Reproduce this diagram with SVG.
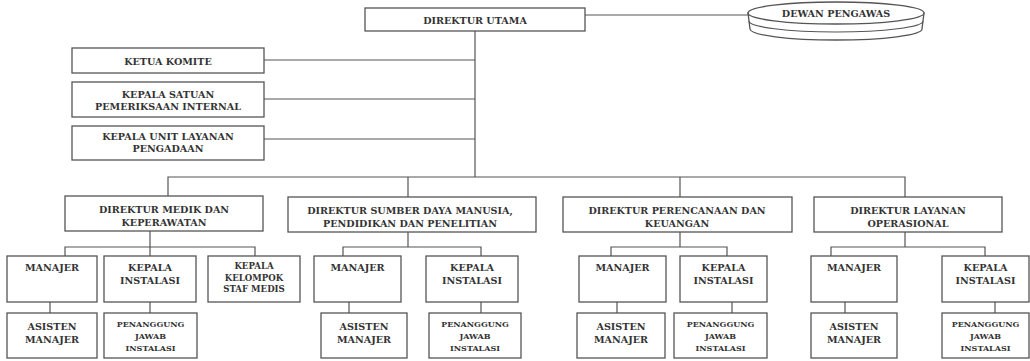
<svg xmlns="http://www.w3.org/2000/svg" width="1030" height="361" viewBox="0 0 1030 361">
<style>
.b{fill:#fff;stroke:#555;stroke-width:1.3}
.c{fill:none;stroke:#555;stroke-width:1.2}
text{font-family:"DejaVu Serif","Liberation Serif",serif;font-weight:bold;fill:#333;text-anchor:middle;font-size:9.6px}
.s{font-size:8.6px}
.t{font-size:8px}
</style>
<rect width="1030" height="361" fill="#fff"/>
<g id="connectors" class="c">
<path d="M585,15 H748"/>
<path d="M475,31 V177"/>
<path d="M264,60 H475 M264,99 H475 M264,139 H475"/>
<path d="M168,196 V177 H905 V197 M408,177 V197 M680,177 V197"/>
<path d="M150,231 V247 M65,256 V247 H255 V256 M150,247 V256"/>
<path d="M50,302 V313 M150,302 V313"/>
<path d="M408,232 V247 M343,256 V247 H481 V256"/>
<path d="M349,302 V313 M481,302 V313"/>
<path d="M680,232 V247 M611,256 V247 H727 V256"/>
<path d="M617,302 V313 M732,302 V313"/>
<path d="M905,232 V247 M831,256 V247 H985 V256"/>
<path d="M845,302 V313 M995,302 V313"/>
</g>
<g id="direktur-utama"><rect class="b" x="365" y="8" width="220" height="23"/><text x="475" y="23.5">DIREKTUR UTAMA</text></g>
<g id="dewan-pengawas">
<path class="b" d="M748,13 L750,29 A86,11 0 0 0 922,29 L924,13 Z"/>
<path class="c" d="M749,21 A87,11 0 0 0 923,21"/>
<ellipse class="b" cx="836" cy="13" rx="88" ry="11"/>
<text x="836" y="17">DEWAN PENGAWAS</text></g>
<g id="ketua-komite"><rect class="b" x="72" y="48" width="192" height="25"/><text x="168" y="64.5">KETUA KOMITE</text></g>
<g id="kepala-spi"><rect class="b" x="72" y="82" width="192" height="35"/><text x="168" y="97.5">KEPALA SATUAN</text><text x="168" y="109.5">PEMERIKSAAN INTERNAL</text></g>
<g id="kepala-ulp"><rect class="b" x="72" y="126" width="192" height="34"/><text x="168" y="139.5">KEPALA UNIT LAYANAN</text><text x="168" y="151.5">PENGADAAN</text></g>
<g id="dir-medik"><rect class="b" x="65" y="196" width="198" height="35"/><text x="164" y="212.5">DIREKTUR MEDIK DAN</text><text x="164" y="225.5">KEPERAWATAN</text></g>
<g id="dir-sdm"><rect class="b" x="288" y="197" width="248" height="35"/><text x="410" y="213.5">DIREKTUR SUMBER DAYA MANUSIA,</text><text x="410" y="226.5">PENDIDIKAN DAN PENELITIAN</text></g>
<g id="dir-perencanaan"><rect class="b" x="563" y="197" width="229" height="35"/><text x="677" y="213.5">DIREKTUR PERENCANAAN DAN</text><text x="677" y="226.5">KEUANGAN</text></g>
<g id="dir-layanan"><rect class="b" x="814" y="197" width="188" height="35"/><text x="908" y="213.5">DIREKTUR LAYANAN</text><text x="908" y="226.5">OPERASIONAL</text></g>
<g id="medik-manajer"><rect class="b" x="7" y="256" width="90" height="46"/><text x="52" y="270.5">MANAJER</text></g>
<g id="medik-kepala-instalasi"><rect class="b" x="104" y="256" width="92" height="46"/><text x="150" y="270.5">KEPALA</text><text x="150" y="283.5">INSTALASI</text></g>
<g id="medik-ksm"><rect class="b" x="208" y="256" width="92" height="46"/><text class="s" x="254" y="269">KEPALA</text><text class="s" x="254" y="280.5">KELOMPOK</text><text class="s" x="254" y="292">STAF MEDIS</text></g>
<g id="medik-asisten"><rect class="b" x="7" y="313" width="90" height="45"/><text x="52" y="329.5">ASISTEN</text><text x="52" y="342.5">MANAJER</text></g>
<g id="medik-pj"><rect class="b" x="104" y="313" width="93" height="45"/><text class="t" x="150.5" y="327">PENANGGUNG</text><text class="t" x="150.5" y="339">JAWAB</text><text class="t" x="150.5" y="351">INSTALASI</text></g>
<g id="sdm-manajer"><rect class="b" x="314" y="256" width="87" height="46"/><text x="357.5" y="270.5">MANAJER</text></g>
<g id="sdm-kepala-instalasi"><rect class="b" x="426" y="256" width="92" height="46"/><text x="472" y="270.5">KEPALA</text><text x="472" y="283.5">INSTALASI</text></g>
<g id="sdm-asisten"><rect class="b" x="321" y="313" width="86" height="45"/><text x="364" y="329.5">ASISTEN</text><text x="364" y="342.5">MANAJER</text></g>
<g id="sdm-pj"><rect class="b" x="429" y="313" width="92" height="45"/><text class="t" x="475" y="327">PENANGGUNG</text><text class="t" x="475" y="339">JAWAB</text><text class="t" x="475" y="351">INSTALASI</text></g>
<g id="ren-manajer"><rect class="b" x="579" y="256" width="87" height="46"/><text x="622.5" y="270.5">MANAJER</text></g>
<g id="ren-kepala-instalasi"><rect class="b" x="680" y="256" width="87" height="46"/><text x="723.5" y="270.5">KEPALA</text><text x="723.5" y="283.5">INSTALASI</text></g>
<g id="ren-asisten"><rect class="b" x="577" y="313" width="88" height="45"/><text x="621" y="329.5">ASISTEN</text><text x="621" y="342.5">MANAJER</text></g>
<g id="ren-pj"><rect class="b" x="674" y="313" width="93" height="45"/><text class="t" x="720.5" y="327">PENANGGUNG</text><text class="t" x="720.5" y="339">JAWAB</text><text class="t" x="720.5" y="351">INSTALASI</text></g>
<g id="lay-manajer"><rect class="b" x="811" y="256" width="86" height="46"/><text x="854" y="270.5">MANAJER</text></g>
<g id="lay-kepala-instalasi"><rect class="b" x="942" y="256" width="87" height="46"/><text x="985.5" y="270.5">KEPALA</text><text x="985.5" y="283.5">INSTALASI</text></g>
<g id="lay-asisten"><rect class="b" x="811" y="313" width="86" height="45"/><text x="854" y="329.5">ASISTEN</text><text x="854" y="342.5">MANAJER</text></g>
<g id="lay-pj"><rect class="b" x="942" y="313" width="87" height="45"/><text class="t" x="985.5" y="327">PENANGGUNG</text><text class="t" x="985.5" y="339">JAWAB</text><text class="t" x="985.5" y="351">INSTALASI</text></g>
</svg>
